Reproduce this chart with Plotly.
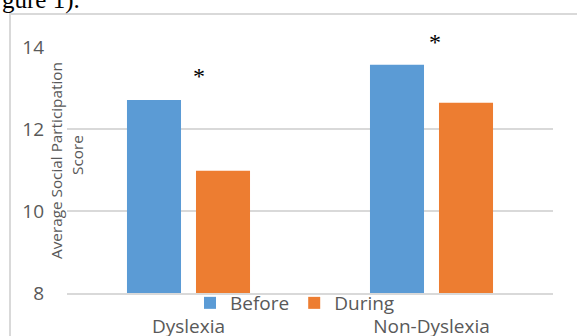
import plotly.graph_objects as go

categories = ["Dyslexia", "Non-Dyslexia"]
before_values = [12.71, 13.57]
during_values = [10.98, 12.64]
series_names = ["Before", "During"]
y_ticks = [8, 10, 12, 14]

FONT = "Open Sans"
TICK_COLOR = "#595959"
GRID = "#D9D9D9"

W, H = 577, 336
ML, MT = 11, 15           # the chart frame sits at the edge of the plotting area
PW, PH = W - ML, H - MT


def px_x(x):
    return (x - ML) / PW


def px_y(y):
    return 1 - (y - MT) / PH


fig = go.Figure()
fig.add_trace(go.Bar(x=categories, y=before_values, name=series_names[0],
                     marker=dict(color="#5B9BD5", line=dict(width=0))))
fig.add_trace(go.Bar(x=categories, y=during_values, name=series_names[1],
                     marker=dict(color="#ED7D31", line=dict(width=0))))
# empty helper trace that carries the frame axes
fig.add_trace(go.Scatter(x=[None], y=[None], xaxis="x2", yaxis="y2",
                         showlegend=False, hoverinfo="skip"))

fig.update_layout(
    width=W, height=H,
    margin=dict(l=ML, r=0, t=MT, b=0, pad=0, autoexpand=False),
    paper_bgcolor="white", plot_bgcolor="rgba(0,0,0,0)",
    barmode="group", bargap=0.432, bargroupgap=0.217,
    font=dict(family=FONT, color=TICK_COLOR),
    showlegend=True,
    legend=dict(orientation="h", x=px_x(295), xanchor="center", y=px_y(303), yanchor="middle",
                font=dict(family=FONT, size=19, color=TICK_COLOR),
                bgcolor="rgba(0,0,0,0)", traceorder="normal"),
    xaxis=dict(domain=[px_x(67), px_x(553)], anchor="y",
               showgrid=False, showline=True, linecolor=GRID, linewidth=1.5,
               tickfont=dict(family=FONT, size=19, color=TICK_COLOR),
               ticks="", ticklabelstandoff=15, zeroline=False, automargin=False),
    yaxis=dict(domain=[px_y(293), px_y(47)], anchor="x",
               range=[8, 14], tickvals=y_ticks, showgrid=True, gridcolor=GRID, gridwidth=1.5,
               showline=False, zeroline=False, ticks="", ticklabelstandoff=22, automargin=False,
               tickfont=dict(family=FONT, size=19, color=TICK_COLOR)),
    xaxis2=dict(domain=[0, 1], anchor="y2", side="top", range=[0, 1],
                showline=True, linecolor=GRID, linewidth=2, showgrid=False,
                zeroline=False, showticklabels=False, ticks="", automargin=False, fixedrange=True),
    yaxis2=dict(domain=[0, 1], anchor="x2", side="left", range=[0, 1],
                showline=True, linecolor=GRID, linewidth=2, showgrid=False,
                zeroline=False, showticklabels=False, ticks="", automargin=False, fixedrange=True),
)

# Y-axis title (two lines)
fig.add_annotation(text="Average Social Participation", textangle=-90,
                   xref="paper", yref="paper", x=px_x(56), y=px_y(161),
                   xanchor="center", yanchor="middle", showarrow=False,
                   font=dict(family=FONT, size=15.3, color=TICK_COLOR))
fig.add_annotation(text="Score", textangle=-90,
                   xref="paper", yref="paper", x=px_x(77), y=px_y(155),
                   xanchor="center", yanchor="middle", showarrow=False,
                   font=dict(family=FONT, size=15.3, color=TICK_COLOR))

# Significance markers
fig.add_annotation(text="*", xref="paper", yref="paper", x=px_x(199), y=px_y(76),
                   xanchor="center", yanchor="middle", showarrow=False,
                   font=dict(family="Liberation Serif", size=24, color="black"))
fig.add_annotation(text="*", xref="paper", yref="paper", x=px_x(435), y=px_y(42),
                   xanchor="center", yanchor="middle", showarrow=False,
                   font=dict(family="Liberation Serif", size=24, color="black"))

# Document text fragment above the chart
fig.add_annotation(text="gure 1).", xref="paper", yref="paper", x=px_x(0), y=px_y(16),
                   xanchor="left", yanchor="bottom", showarrow=False,
                   font=dict(family="Liberation Serif", size=25, color="black"))

fig.write_html("out.html", config={"displayModeBar": False},
               post_script="document.body.style.margin='0';document.body.style.overflow='hidden';")
